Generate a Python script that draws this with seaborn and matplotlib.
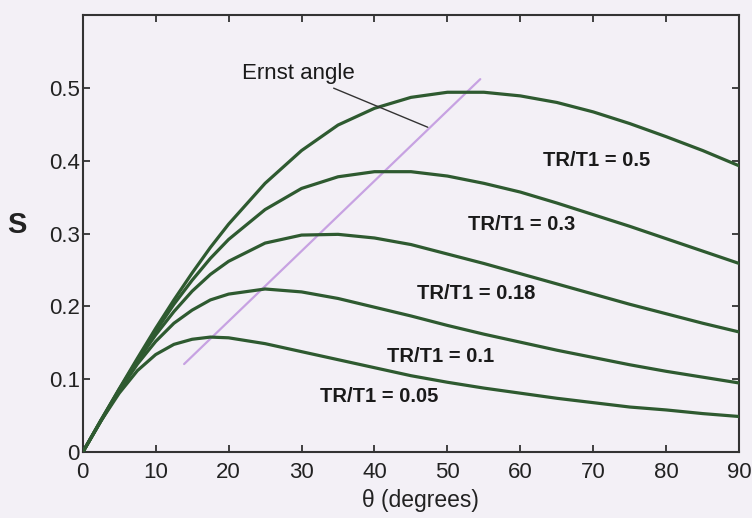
import pandas as pd
import seaborn as sns
import matplotlib.pyplot as plt

# flip angle (degrees) and signal S for each TR/T1 ratio
theta = [0, 2.5, 5, 7.5, 10, 12.5, 15, 17.5, 20, 25, 30, 35, 40, 45,
         50, 55, 60, 65, 70, 75, 80, 85, 90]
s_005 = [0, 0.043, 0.081, 0.112, 0.134, 0.148, 0.155, 0.158, 0.157, 0.149, 0.138, 0.127,
         0.116, 0.105, 0.096, 0.088, 0.081, 0.074, 0.068, 0.062, 0.058, 0.053, 0.049]
s_01 = [0, 0.043, 0.084, 0.121, 0.152, 0.177, 0.195, 0.209, 0.217, 0.224, 0.220, 0.211,
        0.199, 0.187, 0.174, 0.162, 0.151, 0.140, 0.130, 0.120, 0.111, 0.103, 0.095]
s_018 = [0, 0.043, 0.086, 0.125, 0.161, 0.193, 0.221, 0.244, 0.262, 0.287, 0.298, 0.299,
         0.294, 0.285, 0.272, 0.259, 0.245, 0.231, 0.217, 0.203, 0.190, 0.177, 0.165]
s_03 = [0, 0.044, 0.086, 0.127, 0.166, 0.203, 0.236, 0.266, 0.292, 0.333, 0.362, 0.378,
        0.385, 0.385, 0.379, 0.369, 0.357, 0.342, 0.326, 0.310, 0.293, 0.276, 0.259]
s_05 = [0, 0.044, 0.087, 0.129, 0.170, 0.209, 0.246, 0.281, 0.313, 0.369, 0.414, 0.449,
        0.472, 0.487, 0.494, 0.494, 0.489, 0.480, 0.467, 0.451, 0.433, 0.414, 0.393]
ratios = ['0.05', '0.1', '0.18', '0.3', '0.5']

# straight line through the Ernst-angle maxima
ernst_x = [13.9, 54.5]
ernst_y = [0.121, 0.512]

# label text positions
label_x = [40.7, 49.0, 54.0, 60.2, 70.5]
label_y = [0.077, 0.131, 0.218, 0.312, 0.400]

rows = []
for r, vals in zip(ratios, [s_005, s_01, s_018, s_03, s_05]):
    for t, v in zip(theta, vals):
        rows.append({'theta': t, 'S': v, 'ratio': r})
df = pd.DataFrame(rows)

sns.set_style('ticks')
plt.rcParams['font.family'] = ['Liberation Sans', 'DejaVu Sans']

bg = '#f3f0f6'
green = '#2e5a30'

fig = plt.figure(figsize=(7.52, 5.18), dpi=100, facecolor=bg)
ax = fig.add_axes([0.110, 0.127, 0.873, 0.844])
ax.set_facecolor(bg)

sns.lineplot(data=df, x='theta', y='S', hue='ratio', palette=[green] * 5,
             linewidth=2.3, legend=False, ax=ax, zorder=3)
sns.lineplot(x=ernst_x, y=ernst_y, color='#c7a2e2', linewidth=1.6, ax=ax, zorder=2)

for r, lx, ly in zip(ratios, label_x, label_y):
    ax.text(lx, ly, 'TR/T1 = ' + r, fontsize=14.5, fontweight='bold',
            ha='center', va='center', color='#1a1a1a')

ax.annotate('Ernst angle', xy=(47.3, 0.446), xytext=(29.5, 0.52),
            fontsize=16, ha='center', va='center', color='#1a1a1a',
            arrowprops=dict(arrowstyle='-', color='#333333', lw=1.0,
                            shrinkA=2, shrinkB=0))

ax.set_xlim(0, 90)
ax.set_ylim(0, 0.6)
ax.set_xticks(range(0, 91, 10))
ax.set_yticks([0, 0.1, 0.2, 0.3, 0.4, 0.5, 0.6])
ax.set_yticklabels(['0', '0.1', '0.2', '0.3', '0.4', '0.5', ''])
ax.tick_params(direction='in', length=5, width=1.2, labelsize=16,
               top=True, right=True, colors='#222222')
ax.tick_params(axis='x', pad=7)
ax.tick_params(axis='y', pad=2)
for sp in ax.spines.values():
    sp.set_visible(True)
    sp.set_linewidth(1.5)
    sp.set_color('#333333')

ax.set_xlabel('θ (degrees)', fontsize=16.5, color='#222222')
ax.xaxis.set_label_coords(0.515, -0.085)
ax.set_ylabel('S', fontsize=21, fontweight='bold', rotation=0,
              va='center', color='#222222')
ax.yaxis.set_label_coords(-0.100, 0.52)

plt.savefig('out.png', dpi=100, facecolor=bg)
